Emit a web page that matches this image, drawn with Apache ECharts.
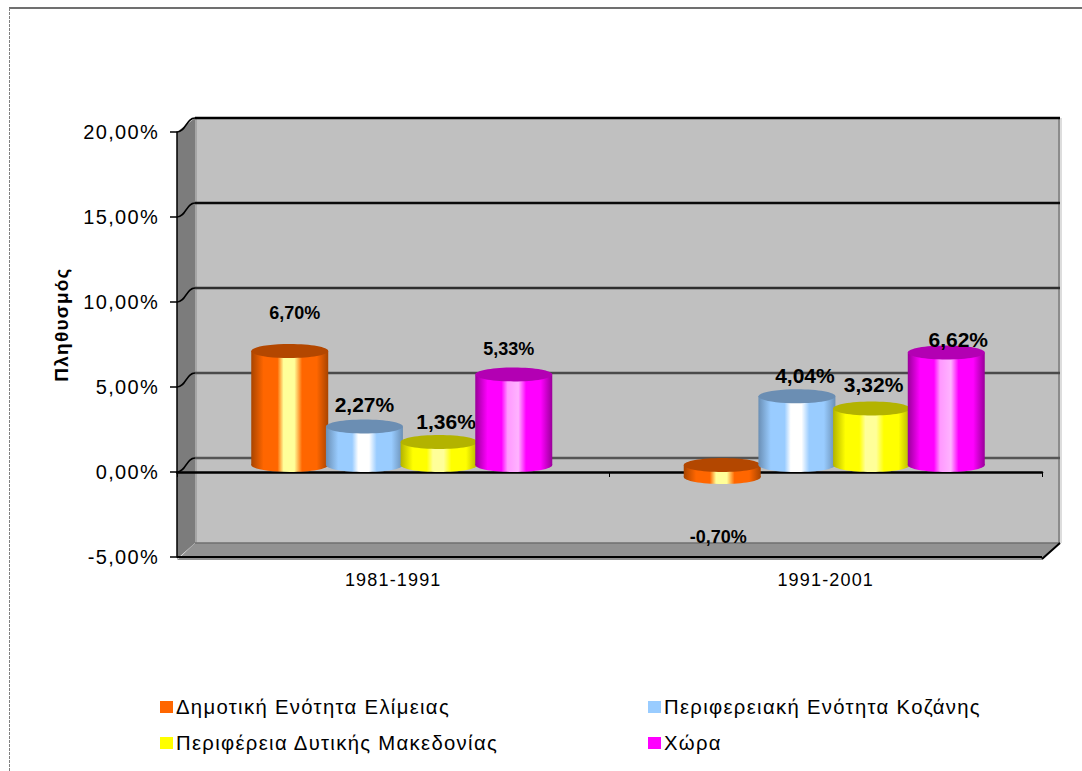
<!DOCTYPE html>
<html>
<head>
<meta charset="utf-8">
<style>
html,body{margin:0;padding:0;background:#fff}
#chart{width:1082px;height:771px}
#chart text{letter-spacing:.065em}
#chart text[style*="bold 21px"],#chart text[style*="bold 18px"]{letter-spacing:0}
</style>
<script src="https://cdn.jsdelivr.net/npm/echarts@6/dist/echarts.min.js"></script>
</head>
<body>
<div id="chart"></div>
<script>
// ---- data ----
const categories = ['1981-1991', '1991-2001'];
const seriesNames = ['Δημοτική Ενότητα Ελίμειας', 'Περιφερειακή Ενότητα Κοζάνης', 'Περιφέρεια Δυτικής Μακεδονίας', 'Χώρα'];
const elimeia = [6.70, -0.70];
const kozani = [2.27, 4.04];
const dytikiMakedonia = [1.36, 3.32];
const chora = [5.33, 6.62];
const yTicks = [-5, 0, 5, 10, 15, 20];
const yAxisTitle = 'Πληθυσμός';

// ---- styling ----
const DEPTH_X = 18, DEPTH_Y = 14, CAP_RY = 7;
const BAR_SHARE = 0.178;            // bar width as share of category band
const wallGridColors = {'0':'#555555','5':'#4a4a4a','10':'#2e2e2e','15':'#0a0a0a','20':'#000000'};
const looks = [
  {values: elimeia,         base:'#FF6600', edge:'#A84400', cap:'#B34700', hi:'#FFFF99', hi2:'#FFFF99'},
  {values: kozani,          base:'#99CCFF', edge:'#6A8FB5', cap:'#6B8EB3', hi:'#FFFFFF', hi2:'#FFFFFF'},
  {values: dytikiMakedonia, base:'#FFFF00', edge:'#B3B300', cap:'#B3B300', hi:'#FFFF99', hi2:'#FFFF99'},
  {values: chora,           base:'#FF00FF', edge:'#990099', cap:'#B300B3', hi:'#FF99FF', hi2:'#FFB3FF'}
];
// label placement relative to bar top (px): [dx, dy, fontSize] per series, per category
const labelPlacement = [
  [[5, -45, 18], [-4, 53, 18]],
  [[0, -29, 21], [8, -28, 21]],
  [[7, -27, 21], [2, -31, 21]],
  [[-5, -32, 18], [12, -20, 21]]
];
const fmt = v => v.toFixed(2).replace('.', ',') + '%';

function cylinderItem(look, si) {
  return function (params, api) {
    const band = api.size([1, 0])[0];
    const w = band * BAR_SHARE;
    const catIdx = api.value(0);
    const v = api.value(1);
    const p = api.coord([catIdx, v]);
    const p0 = api.coord([catIdx, 0]);
    const center = p[0] + DEPTH_X / 2 - 0.5 + (si - 1.5) * w * 0.97;
    const x0 = center - w / 2;
    const yHi = Math.min(p[1], p0[1]) - DEPTH_Y / 2;
    const yLo = Math.max(p[1], p0[1]) - DEPTH_Y / 2;
    const grad = new echarts.graphic.LinearGradient(0, 0, 1, 0, [
      {offset: 0, color: look.edge},
      {offset: 0.16, color: look.base},
      {offset: 0.34, color: look.base},
      {offset: 0.42, color: look.hi},
      {offset: 0.56, color: look.hi2},
      {offset: 0.66, color: look.base},
      {offset: 0.85, color: look.base},
      {offset: 1, color: look.edge}
    ]);
    const place = labelPlacement[si][catIdx];
    return {
      type: 'group',
      children: [
        {type: 'rect', shape: {x: x0, y: yHi, width: w, height: yLo - yHi}, style: {fill: grad}},
        {type: 'ellipse', shape: {cx: center, cy: yLo, rx: w / 2, ry: CAP_RY}, style: {fill: grad}},
        {type: 'ellipse', shape: {cx: center, cy: yHi, rx: w / 2, ry: CAP_RY}, style: {fill: look.cap}},
        {type: 'text', z2: 20, style: {
          text: fmt(v), x: center + place[0], y: p[1] + place[1] ,
          align: 'center', verticalAlign: 'middle',
          fill: '#000', font: 'bold ' + place[2] + 'px "Liberation Sans", Arial, sans-serif'
        }}
      ]
    };
  };
}

function wallItem(params, api) {
  const c = params.coordSys;
  const L = c.x, R = c.x + c.width, T = c.y, B = c.y + c.height;
  const kids = [
    {type:'polygon', shape:{points:[[L+DEPTH_X,T-DEPTH_Y],[R+DEPTH_X,T-DEPTH_Y],[R+DEPTH_X,B-DEPTH_Y],[L+DEPTH_X,B-DEPTH_Y]]}, style:{fill:'#C0C0C0'}},
    {type:'polygon', shape:{points:[[L,T],[L+DEPTH_X,T-DEPTH_Y],[L+DEPTH_X,B-DEPTH_Y],[L,B+2]]}, style:{fill:'#7C7C7C'}},
    {type:'polygon', shape:{points:[[L,B+3],[R,B+3],[R+DEPTH_X,B-DEPTH_Y],[L+DEPTH_X,B-DEPTH_Y]]}, style:{fill:'#929292'}},
    {type:'rect', shape:{x:R+DEPTH_X-2,y:T-DEPTH_Y,width:2,height:B-T}, style:{fill:'#8c8c8c'}},
    {type:'rect', shape:{x:R+DEPTH_X,y:T-DEPTH_Y,width:2,height:B-T}, style:{fill:'#dddddd'}},
    {type:'rect', shape:{x:L+DEPTH_X,y:T-DEPTH_Y,width:2,height:B-T}, style:{fill:'#a6a6a6'}},
    {type:'line', shape:{x1:L+DEPTH_X,y1:B-DEPTH_Y,x2:R+DEPTH_X,y2:B-DEPTH_Y}, style:{stroke:'#6f6f6f',lineWidth:1.5}},
    {type:'line', shape:{x1:L,y1:B,x2:R,y2:B}, style:{stroke:'#000',lineWidth:2}},
    {type:'line', shape:{x1:R,y1:B+2,x2:R+DEPTH_X,y2:B-DEPTH_Y}, style:{stroke:'#000',lineWidth:2}}
  ];
  yTicks.filter(t => t >= 0).forEach(t => {
    const y = api.coord([0, t])[1];
    const col = wallGridColors[t];
    kids.push({type:'line', shape:{x1:L+DEPTH_X,y1:y-DEPTH_Y,x2:R+DEPTH_X,y2:y-DEPTH_Y}, style:{stroke:col,lineWidth:2.6}});
    kids.push({type:'bezierCurve', shape:{x1:L,y1:y,cpx1:L+9,cpy1:y,cpx2:L+9,cpy2:y-DEPTH_Y,x2:L+DEPTH_X,y2:y-DEPTH_Y}, style:{stroke:'#000',fill:'none',lineWidth:1.5}});
  });
  return {type:'group', children:kids};
}

const chart = echarts.init(document.getElementById('chart'), null, {renderer:'svg', width:1082, height:771});
const legendSlots = [[160, 697], [648, 697], [160, 733], [648, 733]];

chart.setOption({
  animation: false,
  backgroundColor: '#fff',
  textStyle: {fontFamily: '"Liberation Sans", Arial, sans-serif'},
  grid: {left: 177, right: 40, top: 132, bottom: 214, containLabel: false},
  graphic: [
    {type:'line', silent:true, shape:{x1:9,y1:8,x2:1082,y2:8}, style:{stroke:'#404040',lineWidth:1.5}},
    {type:'line', silent:true, shape:{x1:9.5,y1:8,x2:9.5,y2:771}, style:{stroke:'#808080',lineWidth:1,lineDash:[3,1]}}
  ],
  legend: seriesNames.map((n, i) => ({
    data: [n], left: legendSlots[i][0], top: legendSlots[i][1], padding: 0, itemGap: 0,
    orient: 'horizontal', itemWidth: 13, itemHeight: 12, icon: 'rect', selectedMode: false,
    textStyle: {fontSize: 20.3, color: '#000', padding: [0, 0, 0, -2]}
  })),
  xAxis: {
    type: 'category', data: categories, z: 5,
    axisLine: {onZero: true, lineStyle: {color: '#000', width: 2.5}},
    axisTick: {show: true, length: 5, lineStyle: {color: '#000', width: 1}},
    axisLabel: {margin: 14, fontSize: 18, color: '#000', fontFamily: '"Liberation Sans", Arial, sans-serif'},
    splitLine: {show: false}
  },
  yAxis: {
    type: 'value', min: -5, max: 20, interval: 5, z: 5,
    name: yAxisTitle, nameLocation: 'middle', nameGap: 106, nameRotate: 90,
    nameTextStyle: {fontSize: 19, fontWeight: 'bold', color: '#000', padding: [0, 0, 0, 40]},
    axisLine: {show: true, lineStyle: {color: '#000', width: 1.5}},
    axisTick: {show: true, length: 7, lineStyle: {color: '#000', width: 1.5}},
    axisLabel: {margin: 18, fontSize: 20, color: '#000', formatter: v => fmt(v)},
    splitLine: {show: false}
  },
  series: [
    {type: 'custom', name: '_walls', z: 1, clip: false, silent: true, renderItem: wallItem, data: [[0, 0]],
     encode: {x: 0, y: 1}, legendHoverLink: false, tooltip: {show: false}}
  ].concat(looks.map((look, si) => ({
    type: 'custom', name: seriesNames[si], z: 10 + si, clip: false,
    itemStyle: {color: look.base},
    encode: {x: 0, y: 1},
    data: look.values.map((v, ci) => [ci, v]),
    renderItem: cylinderItem(look, si)
  })))
});
</script>
</body>
</html>
